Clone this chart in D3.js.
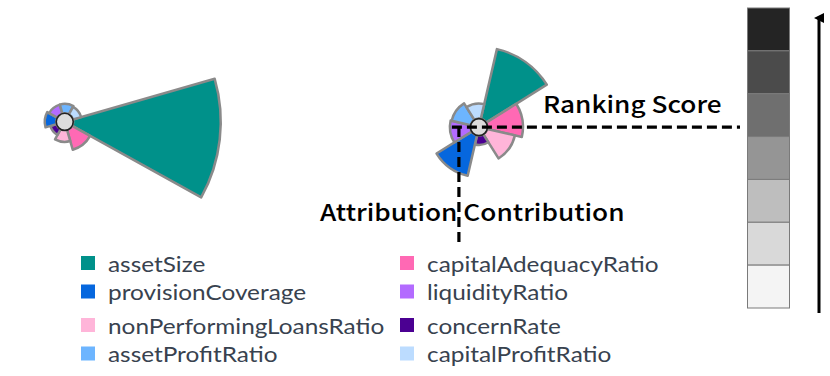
<!DOCTYPE html>
<html>
<head>
<meta charset="utf-8">
<script src="https://cdn.jsdelivr.net/npm/d3@7"></script>
<style>
  html, body { margin: 0; padding: 0; background: #fff; }
  svg { display: block; }
  .legend text { font-family: Lato, "Open Sans", sans-serif; font-size: 21px; fill: #38424f; }
  .note { font-family: "Noto Sans CJK SC", "Noto Sans", sans-serif; font-size: 23px; font-weight: 500; fill: #000; }
</style>
</head>
<body>
<svg width="830" height="376"></svg>
<script>
// metric order, clockwise round each glyph
const metrics = ['assetSize', 'capitalAdequacyRatio', 'nonPerformingLoansRatio', 'concernRate',
                 'provisionCoverage', 'liquidityRatio', 'assetProfitRatio', 'capitalProfitRatio'];
const metricColors = ['#00918a', '#ff69b4', '#ffb5d9', '#4b0092',
                      '#0667de', '#b36bff', '#6db5ff', '#bcdcff'];

// legend columns
const legendCol1 = ['assetSize', 'provisionCoverage', 'nonPerformingLoansRatio', 'assetProfitRatio'];
const legendCol2 = ['capitalAdequacyRatio', 'liquidityRatio', 'concernRate', 'capitalProfitRatio'];

// two banks: normalised contribution of each metric (same order as metrics)
const bankA = [1.00, 0.139, 0.078, 0.044, 0.078, 0.064, 0.064, 0.058];
const bankB = [0.485, 0.241, 0.193, 0.064, 0.281, 0.139, 0.132, 0.102];
const glyphValues = [bankA, bankB];
const glyphX = [0.078, 0.577];      // share of the chart width
const glyphY = [0.324, 0.338];      // share of the chart height
const glyphRotation = [74, 13];     // degrees, start of assetSize sector

// ranking score colour bar, from high (top) to low
const rankLevels = [7, 6, 5, 4, 3, 2, 1];
const rankGrays = ['#242424', '#4b4b4b', '#6f6f6f', '#959595', '#bebebe', '#d9d9d9', '#f4f4f4'];

const width = 830, height = 376;
const svg = d3.select('svg');

const x = d3.scaleLinear().domain([0, 1]).range([0, width]);
const y = d3.scaleLinear().domain([0, 1]).range([0, height]);
const coreR = 8.5;
const r = d3.scaleLinear().domain([0, 1]).range([coreR, 156]);
const color = d3.scaleOrdinal().domain(metrics).range(metricColors);
const deg = Math.PI / 180;
const stretch = 1.14; // the original font is wider than what we have

const arc = d3.arc()
    .innerRadius(coreR)
    .outerRadius(d => r(d.value))
    .startAngle(d => (d.rot + d.i * 45) * deg)
    .endAngle(d => (d.rot + (d.i + 1) * 45) * deg);

const glyphs = svg.selectAll('g.glyph')
    .data(glyphValues)
    .enter().append('g')
    .attr('class', 'glyph')
    .attr('transform', (d, k) => `translate(${x(glyphX[k])},${y(glyphY[k])})`);

glyphs.selectAll('path')
    .data((vals, k) => vals.map((v, i) => ({ value: v, i, rot: glyphRotation[k], key: metrics[i] })))
    .enter().append('path')
    .attr('d', arc)
    .attr('fill', d => color(d.key))
    .attr('stroke', '#8a8a8a')
    .attr('stroke-width', 2.5)
    .attr('stroke-linejoin', 'round');

// annotation lines through the second glyph
const cx = x(glyphX[1]), cy = y(glyphY[1]);
svg.append('path')
    .attr('d', `M${cx - 27},${cy} H740`)
    .attr('stroke', '#000').attr('stroke-width', 3.2)
    .attr('stroke-dasharray', '10,5').attr('fill', 'none');
svg.append('path')
    .attr('d', `M${cx - 20},${cy} V243`)
    .attr('stroke', '#000').attr('stroke-width', 3.2)
    .attr('stroke-dasharray', '10,5').attr('fill', 'none');

glyphs.append('circle')
    .attr('r', coreR)
    .attr('fill', '#dcdcdc')
    .attr('stroke', '#222')
    .attr('stroke-width', 1.6);

svg.append('text').attr('class', 'note')
    .attr('transform', `translate(543,113) scale(${stretch},1)`).text('Ranking Score');
svg.append('text').attr('class', 'note')
    .attr('transform', `translate(320,221) scale(${stretch},1)`).text('Attribution Contribution');

// legend
const legend = svg.append('g').attr('class', 'legend');
const rowTop = i => 256 + i * 28.5 + (i >= 2 ? 5 : 0);
[[legendCol1, 81], [legendCol2, 400]].forEach(([names, left]) => {
    const rows = legend.selectAll(null)
        .data(names)
        .enter().append('g')
        .attr('transform', (d, i) => `translate(${left},${rowTop(i)})`);
    rows.append('rect')
        .attr('width', 14).attr('height', 14)
        .attr('fill', d => color(d));
    rows.append('text')
        .attr('transform', `translate(27,15.5) scale(${stretch + 0.02},1)`)
        .text(d => d);
});

// colour bar for ranking score
const band = d3.scaleBand().domain(rankLevels).range([8, 308]);
const bar = svg.append('g');
bar.selectAll('rect')
    .data(rankLevels)
    .enter().append('rect')
    .attr('x', 747.5).attr('width', 42)
    .attr('y', d => band(d)).attr('height', band.bandwidth())
    .attr('fill', (d, i) => rankGrays[i])
    .attr('stroke', '#7a7a7a').attr('stroke-width', 1);

svg.append('defs').append('marker')
    .attr('id', 'head')
    .attr('viewBox', '0 0 10 10')
    .attr('refX', 5).attr('refY', 5)
    .attr('markerWidth', 10).attr('markerHeight', 11)
    .attr('markerUnits', 'userSpaceOnUse')
    .attr('orient', 'auto')
    .append('path')
    .attr('d', 'M0,10 L5,0 L10,10 Z')
    .attr('fill', '#000');

svg.append('line')
    .attr('x1', 819).attr('x2', 819)
    .attr('y1', 313).attr('y2', 18)
    .attr('stroke', '#000').attr('stroke-width', 3)
    .attr('marker-end', 'url(#head)');
</script>
</body>
</html>
